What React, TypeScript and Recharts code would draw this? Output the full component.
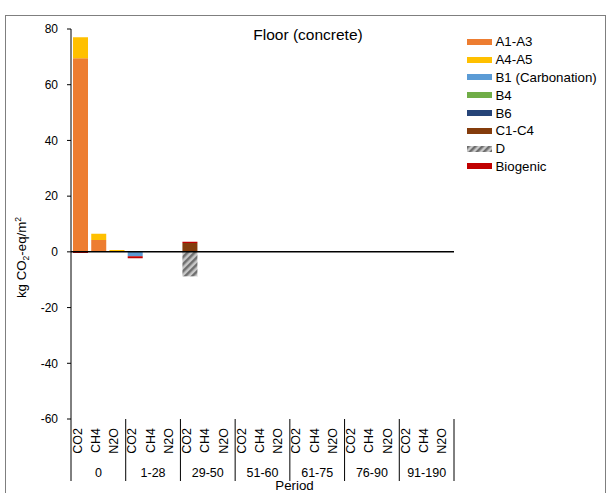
import React from 'react';
import { BarChart, Bar, XAxis, YAxis, ReferenceLine } from 'recharts';

// categories: 7 periods x 3 gases
const periods = ['0', '1-28', '29-50', '51-60', '61-75', '76-90', '91-190'];
const gases = ['CO2', 'CH4', 'N2O'];

// values per category (period 0 CO2, CH4, N2O, then 1-28 ...)
const a1a3 = [69.5, 4.3, 0.2, 0, 0, 0, 0, 0, 0, 0, 0, 0, 0, 0, 0, 0, 0, 0, 0, 0, 0];
const a4a5 = [7.5, 2.2, 0.5, 0, 0, 0, 0, 0, 0, 0, 0, 0, 0, 0, 0, 0, 0, 0, 0, 0, 0];
const b1 = [0, 0, 0, -1.6, 0, 0, 0, 0, 0, 0, 0, 0, 0, 0, 0, 0, 0, 0, 0, 0, 0];
const b4 = [0, 0, 0, 0, 0, 0, 0, 0, 0, 0, 0, 0, 0, 0, 0, 0, 0, 0, 0, 0, 0];
const b6 = [0, 0, 0, 0, 0, 0, 0, 0, 0, 0, 0, 0, 0, 0, 0, 0, 0, 0, 0, 0, 0];
const c1c4 = [0, 0, 0, 0, 0, 0, 3.2, 0, 0, 0, 0, 0, 0, 0, 0, 0, 0, 0, 0, 0, 0];
const dMod = [0, 0, 0, 0, 0, 0, -8.8, 0, 0, 0, 0, 0, 0, 0, 0, 0, 0, 0, 0, 0, 0];
const biogenic = [-0.4, 0, 0, -0.7, 0, 0, 0.4, 0, 0, 0, 0, 0, 0, 0, 0, 0, 0, 0, 0, 0, 0];

const yTicks = [-60, -40, -20, 0, 20, 40, 60, 80];

const series = [
  { key: 'A1-A3', values: a1a3, fill: '#ED7D31' },
  { key: 'A4-A5', values: a4a5, fill: '#FFC000' },
  { key: 'B1 (Carbonation)', values: b1, fill: '#5B9BD5' },
  { key: 'B4', values: b4, fill: '#70AD47' },
  { key: 'B6', values: b6, fill: '#264478' },
  { key: 'C1-C4', values: c1c4, fill: '#843C0C' },
  { key: 'D', values: dMod, fill: 'url(#hatchD)' },
  { key: 'Biogenic', values: biogenic, fill: '#C00000' },
];

const data = periods.flatMap((p, pi) =>
  gases.map((g, gi) => {
    const row: Record<string, any> = { cat: `${p}|${g}` };
    series.forEach((s) => {
      row[s.key] = s.values[pi * 3 + gi];
    });
    return row;
  })
);

const FONT = '"Liberation Sans", Arial, sans-serif';
const PLOT_LEFT = 71;
const PLOT_RIGHT = 454;
const HALF_BAND = (PLOT_RIGHT - PLOT_LEFT) / data.length / 2;

const CategoryTick = (props: any) => {
  const { x, payload, index } = props;
  const [period, gas] = String(payload.value).split('|');
  return (
    <g>
      <text
        x={0}
        y={0}
        transform={`translate(${x + 1.5},428) rotate(-90)`}
        textAnchor="end"
        fontSize={12.5}
        fontFamily={FONT}
        fill="#000"
      >
        {gas}
      </text>
      {index % 3 === 0 && (
        <line x1={x - HALF_BAND} x2={x - HALF_BAND} y1={419} y2={481} stroke="#000" strokeWidth={1} />
      )}
      {index === data.length - 1 && (
        <line x1={x + HALF_BAND} x2={x + HALF_BAND} y1={419} y2={481} stroke="#000" strokeWidth={1} />
      )}
      {index % 3 === 1 && (
        <text x={x} y={477} textAnchor="middle" fontSize={12.5} fontFamily={FONT} fill="#000">
          {period}
        </text>
      )}
    </g>
  );
};

const YLabel = () => (
  <text
    transform="translate(25.5,257.5) rotate(-90)"
    textAnchor="middle"
    fontSize={13.3}
    fontFamily={FONT}
    fill="#000"
  >
    kg CO
    <tspan fontSize={8.5} dy={3}>2</tspan>
    <tspan dy={-3}>-eq/m</tspan>
    <tspan fontSize={8.5} dy={-5}>2</tspan>
  </text>
);

const LegendBox = () => (
  <div style={{ position: 'absolute', left: 467, top: 33, fontFamily: FONT, fontSize: 13.3, color: '#000' }}>
    {series.map((s) => (
      <div key={s.key} style={{ display: 'flex', alignItems: 'center', height: 17.8, whiteSpace: 'nowrap' }}>
        <svg width={25} height={6} style={{ marginRight: 3.5 }}>
          <rect x={0} y={0} width={25} height={6} fill={s.fill} />
        </svg>
        <span>{s.key}</span>
      </div>
    ))}
  </div>
);

export default function App() {
  return (
    <div style={{ position: 'absolute', left: 0, top: 0, width: 611, height: 493, background: '#fff', overflow: 'hidden' }}>
      <div
        style={{
          position: 'absolute',
          left: 5,
          top: 15,
          width: 601,
          height: 500,
          border: '1px solid #7f7f7f',
          boxSizing: 'border-box',
        }}
      />
      <svg width={0} height={0} style={{ position: 'absolute' }}>
        <defs>
          <pattern id="hatchD" patternUnits="userSpaceOnUse" width={5} height={5} patternTransform="rotate(45)">
            <rect x={0} y={0} width={5} height={5} fill="#c8c8c8" />
            <rect x={0} y={0} width={2.5} height={5} fill="#6e6e6e" />
          </pattern>
        </defs>
      </svg>
      <div style={{ position: 'absolute', left: 0, top: 0 }}>
        <BarChart
          width={611}
          height={493}
          data={data}
          stackOffset="sign"
          barSize={15}
          margin={{ top: 29, right: 611 - PLOT_RIGHT, bottom: 0, left: 0 }}
        >
          <XAxis
            dataKey="cat"
            height={74}
            axisLine={false}
            tickLine={false}
            interval={0}
            tick={<CategoryTick />}
          />
          <YAxis
            width={PLOT_LEFT}
            domain={[-60, 80]}
            ticks={yTicks}
            allowDataOverflow
            axisLine={{ stroke: '#000' }}
            tickLine={{ stroke: '#000' }}
            tickSize={4}
            tickMargin={9}
            tick={{ fontSize: 12, fontFamily: FONT, fill: '#000' }}
            label={{ content: () => <YLabel /> }}
          />
          {series.map((s) => (
            <Bar key={s.key} dataKey={s.key} stackId="a" fill={s.fill} isAnimationActive={false} />
          ))}
          <ReferenceLine y={0} stroke="#000" strokeWidth={1.5} />
          <text x={308} y={40} textAnchor="middle" fontSize={15.5} fontFamily={FONT} fill="#000">
            Floor (concrete)
          </text>
          <text x={294.5} y={489.5} textAnchor="middle" fontSize={13.3} fontFamily={FONT} fill="#000">
            Period
          </text>
        </BarChart>
      </div>
      <LegendBox />
    </div>
  );
}
